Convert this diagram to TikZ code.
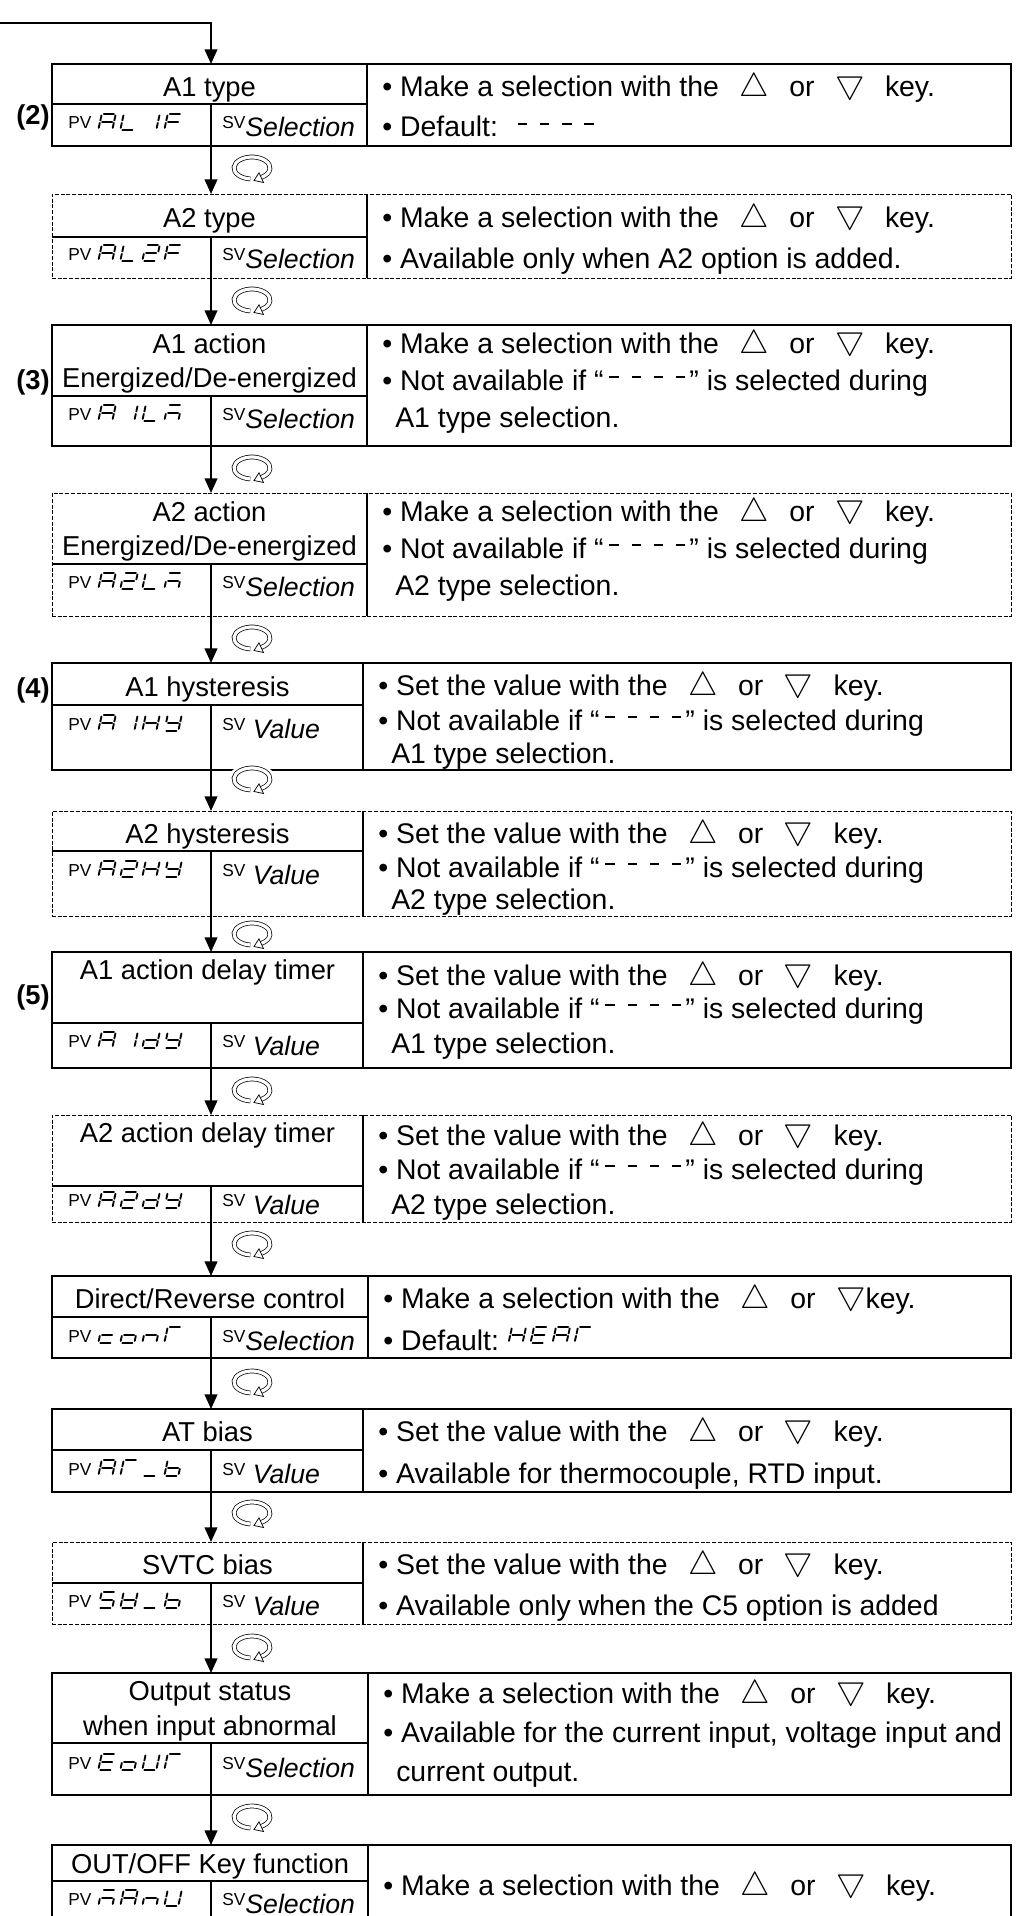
\documentclass[tikz,border=0pt]{standalone}
\usepackage{fontspec}
\setmainfont{Liberation Sans}
\usetikzlibrary{arrows.meta,positioning}

% 7-segment codes, segments a..g = 0..6
\newcommand{\sgA}{0,1,2,4,5,6}
\newcommand{\sgL}{3,4,5}
\newcommand{\sgI}{1,2}
\newcommand{\sgII}{0,1,6,4,3}
\newcommand{\sgF}{0,4,5,6}
\newcommand{\sgH}{1,2,4,5,6}
\newcommand{\sgY}{1,2,3,5,6}
\newcommand{\sgd}{1,2,3,4,6}
\newcommand{\sgc}{3,4,6}
\newcommand{\sgo}{2,3,4,6}
\newcommand{\sgn}{2,4,6}
\newcommand{\sgT}{0,4,5}
\newcommand{\sgu}{3}
\newcommand{\sgb}{2,3,4,5,6}
\newcommand{\sgS}{0,2,3,5,6}
\newcommand{\sgV}{1,2,3,4,5,6}
\newcommand{\sgE}{0,3,4,5,6}
\newcommand{\sgU}{1,2,3,4,5}
\newcommand{\sgm}{0,2,4,6}

\newcommand{\segword}[2]{%
  \begin{scope}[shift={#1}, xslant=0.22]
    \foreach \g [count=\i from 0] in {#2} {
      \edef\gl{\g}
      \foreach \s in \gl {
        \pgfmathsetmacro\xa{{2,14,14,2,0,0,2}[\s]}
        \pgfmathsetmacro\ya{{-16,-14.2,-6.8,0,-6.8,-14.2,-8}[\s]}
        \pgfmathsetmacro\xb{{12,14,14,12,0,0,12}[\s]}
        \pgfmathsetmacro\yb{{-16,-9.2,-1.8,0,-1.8,-9.2,-8}[\s]}
        \draw[segline] ({\i*22+\xa},\ya) -- ({\i*22+\xb},\yb);
      }
    }
  \end{scope}}

% frame: name, border style, top, header line, bottom, divider x
\newcommand{\pframe}[6]{%
  \node[pbox, #2, minimum height={(#5-#3)*0.75pt}] (#1) at (531.5,{(#3+#5)/2}) {};
  \draw[divline] (52,#4) -- (#6,#4) (#6,#3) -- (#6,#5) (211,#4) -- (211,#5);
  \coordinate (#1-in) at (211,#3);
  \coordinate (#1-out) at (211,#5);}

\newcommand{\lbl}[1]{\raisebox{6pt}{\fontsize{13}{14}\selectfont #1}}
\newcommand{\tru}{{\fontsize{30}{30}\selectfont$\bigtriangleup$}}
\newcommand{\trd}{\raisebox{2.5pt}{\fontsize{30}{30}\selectfont$\bigtriangledown$}}
\newcommand{\upk}{\hspace{0.72em}\tru\hspace{0.72em}}
\newcommand{\dnk}{\hspace{0.72em}\trd\hspace{0.72em}}
\newcommand{\sbar}{\rule[0.42em]{0.33em}{1.4pt}}
\newcommand{\nosel}{\hspace{0.2em}\sbar\hspace{0.45em}\sbar\hspace{0.45em}\sbar\hspace{0.45em}\sbar\hspace{0.15em}}

\begin{document}
\begin{tikzpicture}[x=0.75pt, y=-0.75pt,
  pbox/.style={draw, line width=1.5pt, minimum width=719.25pt, inner sep=0pt},
  optbox/.style={line width=0.7pt, dash pattern=on 3pt off 1.3pt},
  divline/.style={line width=1.5pt},
  flow/.style={line width=1.5pt, -{Triangle[length=11pt,width=9.5pt]}},
  ttl/.style={anchor=base, inner sep=0pt, font=\fontsize{20.5}{24}\selectfont},
  cell/.style={anchor=base west, inner sep=0pt, font=\fontsize{20}{24}\selectfont},
  desc/.style={anchor=base west, inner sep=0pt, font=\fontsize{21.3}{25}\selectfont},
  tag/.style={anchor=east, inner sep=0pt, font=\fontsize{20.5}{24}\selectfont\bfseries},
  segline/.style={line width=1.4pt, line cap=round},
  rotkey/.pic={
    \fill[white] (0,0) ellipse [x radius=24, y radius=15];
    \draw[line width=0.55pt, double=white, double distance=2.4pt]
      (95:18 and 11) arc[start angle=95, end angle=420, x radius=18, y radius=11];
    \draw[line width=0.55pt, fill=white] (2,12.5) -- (11.5,14.5) -- (7,4.8) -- cycle;
  }]
\useasboundingbox (0,0) rectangle (1021,1916);
\clip (0,0) rectangle (1021,1916);

% (2) A1 type
\pframe{b1}{}{64}{104}{146}{367}
\node[tag] (l2) at (50,117) {(2)};
\node[ttl] (t1) at (209.5,97) {A1 type};
\node[cell] (p1) at (68,137) {\lbl{PV}};
\segword{([xshift=5pt,yshift=5.5pt]p1.base east)}{\sgA,\sgL,\sgI,\sgF}
\node[cell] (s1) at (222,137) {\lbl{SV}\textit{Selection}};
\node[desc] (d1a) at (382,97) {• Make a selection with the\upk or\dnk key.};
\node[desc] (d1b) at (382,137) {• Default:\hspace{0.5em}\nosel};

% A2 type
\pframe{b2}{optbox}{194}{237}{278}{367}
\node[ttl] (t2) at (209.5,227) {A2 type};
\node[cell] (p2) at (68,268) {\lbl{PV}};
\segword{([xshift=5pt,yshift=5.5pt]p2.base east)}{\sgA,\sgL,\sgII,\sgF}
\node[cell] (s2) at (222,268) {\lbl{SV}\textit{Selection}};
\node[desc] (d2a) at (382,227) {• Make a selection with the\upk or\dnk key.};
\node[desc] (d2b) at (382,268) {• Available only when A2 option is added.};

% (3) A1 action
\pframe{b3}{}{325}{396}{446}{367}
\node[tag] (l3) at (50,382) {(3)};
\node[ttl] (t3a) at (209.5,353) {A1 action};
\node[ttl] (t3b) at (209.5,387) {Energized/De-energized};
\node[cell] (p3) at (68,428) {\lbl{PV}};
\segword{([xshift=5pt,yshift=5.5pt]p3.base east)}{\sgA,\sgI,\sgL,\sgm}
\node[cell] (s3) at (222,428) {\lbl{SV}\textit{Selection}};
\node[desc] (d3a) at (382,353) {• Make a selection with the\upk or\dnk key.};
\node[desc] (d3b) at (382,390) {• Not available if “\nosel” is selected during};
\node[desc] (d3c) at (395,427) {A1 type selection.};

% A2 action
\pframe{b4}{optbox}{493}{564}{616}{367}
\node[ttl] (t4a) at (209.5,521) {A2 action};
\node[ttl] (t4b) at (209.5,555) {Energized/De-energized};
\node[cell] (p4) at (68,596) {\lbl{PV}};
\segword{([xshift=5pt,yshift=5.5pt]p4.base east)}{\sgA,\sgII,\sgL,\sgm}
\node[cell] (s4) at (222,596) {\lbl{SV}\textit{Selection}};
\node[desc] (d4a) at (382,521) {• Make a selection with the\upk or\dnk key.};
\node[desc] (d4b) at (382,558) {• Not available if “\nosel” is selected during};
\node[desc] (d4c) at (395,595) {A2 type selection.};

% (4) A1 hysteresis
\pframe{b5}{}{663}{705}{770}{363}
\node[tag] (l4) at (50,690) {(4)};
\node[ttl] (t5) at (207.5,696) {A1 hysteresis};
\node[cell] (p5) at (68,738) {\lbl{PV}};
\segword{([xshift=5pt,yshift=5.5pt]p5.base east)}{\sgA,\sgI,\sgH,\sgY}
\node[cell] (s5) at (222,738) {\lbl{SV} \textit{Value}};
\node[desc] (d5a) at (378,695) {• Set the value with the\upk or\dnk key.};
\node[desc] (d5b) at (378,730) {• Not available if “\nosel” is selected during};
\node[desc] (d5c) at (391,763) {A1 type selection.};

% A2 hysteresis
\pframe{b6}{optbox}{811}{851}{916}{363}
\node[ttl] (t6) at (207.5,843) {A2 hysteresis};
\node[cell] (p6) at (68,884) {\lbl{PV}};
\segword{([xshift=5pt,yshift=5.5pt]p6.base east)}{\sgA,\sgII,\sgH,\sgY}
\node[cell] (s6) at (222,884) {\lbl{SV} \textit{Value}};
\node[desc] (d6a) at (378,843) {• Set the value with the\upk or\dnk key.};
\node[desc] (d6b) at (378,877) {• Not available if “\nosel” is selected during};
\node[desc] (d6c) at (391,909) {A2 type selection.};

% (5) A1 action delay timer
\pframe{b7}{}{952}{1023}{1068}{363}
\node[tag] (l5) at (50,997) {(5)};
\node[ttl] (t7) at (207.5,979) {A1 action delay timer};
\node[cell] (p7) at (68,1055) {\lbl{PV}};
\segword{([xshift=5pt,yshift=5.5pt]p7.base east)}{\sgA,\sgI,\sgd,\sgY}
\node[cell] (s7) at (222,1055) {\lbl{SV} \textit{Value}};
\node[desc] (d7a) at (378,985) {• Set the value with the\upk or\dnk key.};
\node[desc] (d7b) at (378,1018) {• Not available if “\nosel” is selected during};
\node[desc] (d7c) at (391,1053) {A1 type selection.};

% A2 action delay timer
\pframe{b8}{optbox}{1115}{1186}{1222}{363}
\node[ttl] (t8) at (207.5,1142) {A2 action delay timer};
\node[cell] (p8) at (68,1214) {\lbl{PV}};
\segword{([xshift=5pt,yshift=4.5pt]p8.base east)}{\sgA,\sgII,\sgd,\sgY}
\node[cell] (s8) at (222,1214) {\lbl{SV} \textit{Value}};
\node[desc] (d8a) at (378,1145) {• Set the value with the\upk or\dnk key.};
\node[desc] (d8b) at (378,1179) {• Not available if “\nosel” is selected during};
\node[desc] (d8c) at (391,1214) {A2 type selection.};

% Direct/Reverse control
\pframe{b9}{}{1276}{1317}{1358}{368}
\node[ttl] (t9) at (210,1308) {Direct/Reverse control};
\node[cell] (p9) at (68,1350) {\lbl{PV}};
\segword{([xshift=5pt,yshift=5.5pt]p9.base east)}{\sgc,\sgo,\sgn,\sgT}
\node[cell] (s9) at (222,1350) {\lbl{SV}\textit{Selection}};
\node[desc] (d9a) at (383,1308) {• Make a selection with the\upk or\hspace{0.72em}\trd key.};
\node[desc] (d9b) at (383,1350) {• Default:};
\segword{([xshift=7pt,yshift=5.5pt]d9b.base east)}{\sgH,\sgE,\sgA,\sgT}

% AT bias
\pframe{b10}{}{1409}{1450}{1492}{363}
\node[ttl] (t10) at (207.5,1441) {AT bias};
\node[cell] (p10) at (68,1483) {\lbl{PV}};
\segword{([xshift=5pt,yshift=5.5pt]p10.base east)}{\sgA,\sgT,\sgu,\sgb}
\node[cell] (s10) at (222,1483) {\lbl{SV} \textit{Value}};
\node[desc] (d10a) at (378,1441) {• Set the value with the\upk or\dnk key.};
\node[desc] (d10b) at (378,1483) {• Available for thermocouple, RTD input.};

% SVTC bias
\pframe{b11}{optbox}{1542}{1583}{1624}{363}
\node[ttl] (t11) at (207.5,1574) {SVTC bias};
\node[cell] (p11) at (68,1615) {\lbl{PV}};
\segword{([xshift=5pt,yshift=5.5pt]p11.base east)}{\sgS,\sgV,\sgu,\sgb}
\node[cell] (s11) at (222,1615) {\lbl{SV} \textit{Value}};
\node[desc] (d11a) at (378,1574) {• Set the value with the\upk or\dnk key.};
\node[desc] (d11b) at (378,1615) {• Available only when the C5 option is added};

% Output status when input abnormal
\pframe{b12}{}{1673}{1743}{1795}{368}
\node[ttl] (t12a) at (210,1700) {Output status};
\node[ttl] (t12b) at (210,1735) {when input abnormal};
\node[cell] (p12) at (68,1777) {\lbl{PV}};
\segword{([xshift=5pt,yshift=5.5pt]p12.base east)}{\sgE,\sgo,\sgU,\sgT}
\node[cell] (s12) at (222,1777) {\lbl{SV}\textit{Selection}};
\node[desc] (d12a) at (383,1703) {• Make a selection with the\upk or\dnk key.};
\node[desc] (d12b) at (383,1742) {• Available for the current input, voltage input and};
\node[desc] (d12c) at (396,1781) {current output.};

% OUT/OFF Key function
\pframe{b13}{}{1845}{1881}{1935}{368}
\node[ttl] (t13) at (210,1873) {OUT/OFF Key function};
\node[cell] (p13) at (68,1913) {\lbl{PV}};
\segword{([xshift=5pt,yshift=5.5pt]p13.base east)}{\sgm,\sgA,\sgn,\sgU}
\node[cell] (s13) at (222,1913) {\lbl{SV}\textit{Selection}};
\node[desc] (d13a) at (383,1895) {• Make a selection with the\upk or\dnk key.};

% rotate keys
\foreach \y in {168,300,468,638,779,934,1090,1244,1382,1513,1647,1817}
  \pic at (252,\y) {rotkey};

% arrows
\coordinate (entry) at (0,23);
\draw[flow] (entry) -| (b1-in);
\foreach \a/\b in {b1/b2,b2/b3,b3/b4,b4/b5,b5/b6,b6/b7,b7/b8,b8/b9,b9/b10,b10/b11,b11/b12,b12/b13}
  \draw[flow] (\a-out) -- (\b-in);
\end{tikzpicture}
\end{document}
